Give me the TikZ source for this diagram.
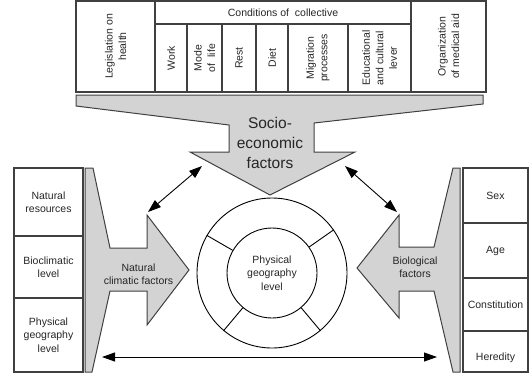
\documentclass[tikz,border=0pt]{standalone}
\usepackage{fontspec}
\setmainfont{Liberation Sans}
\usetikzlibrary{positioning, arrows.meta}
\definecolor{framegray}{HTML}{404040}
\definecolor{arrowgray}{HTML}{D3D3D3}
\definecolor{textgray}{HTML}{262626}

\begin{document}
\begin{tikzpicture}[x=1pt, y=-1pt,
        cell/.style={draw=framegray, line width=1.2pt, inner sep=1pt, align=center, text=textgray, font=\fontsize{10.5}{13.5}\selectfont},
        vcell/.style={cell, rotate=90},
        bigarrow/.style={draw=framegray, line width=1pt, fill=arrowgray},
        arrowtext/.style={align=center, text=textgray, font=\fontsize{10.5}{13.5}\selectfont},
        twoway/.style={<->, >={Triangle[length=13pt, width=9pt]}, line width=0.9pt}]
      \useasboundingbox (0,0) rectangle (529,375);

      % Top table
      \node[vcell, minimum width=91, minimum height=79] (legis) at (115.5,46.5) {Legislation on\\health};
      \node[cell, minimum width=256, minimum height=23] (cond) at (283,12.5) {Conditions of\ \ collective};
      \node[vcell, minimum width=68, minimum height=32] (work) at (171,58) {Work};
      \node[vcell, minimum width=68, minimum height=35] (mode) at (204.5,58) {Mode\\of\ \ life};
      \node[vcell, minimum width=68, minimum height=34] (rest) at (239,58) {Rest};
      \node[vcell, minimum width=68, minimum height=32] (diet) at (272,58) {Diet};
      \node[vcell, minimum width=68, minimum height=60] (migr) at (318,58) {Migration\\processes};
      \node[vcell, minimum width=68, minimum height=63] (educ) at (379.5,58) {Educational\\and cultural\\lever};
      \node[vcell, minimum width=91, minimum height=75] (org) at (448.5,46.5) {Organization\\of medical aid};

      % Socio-economic arrow
      \draw[bigarrow] (76,95) -- (483,95) -- (483,104) -- (314,123) -- (314,152) -- (355,152)
        -- (270,195) -- (190,152) -- (229,152) -- (229,125) -- (76,106) -- cycle;
      \node[arrowtext, font=\fontsize{15.5}{20}\selectfont] (socio) at (270,143) {Socio-\\economic\\factors};

      % Left side
      \node[cell, minimum width=69, minimum height=68] (natres) at (48.5,202) {Natural\\resources};
      \node[cell, minimum width=69, minimum height=62] (biocl) at (48.5,267) {Bioclimatic\\level};
      \node[cell, minimum width=69, minimum height=74] (physl) at (48.5,335) {Physical\\geography\\level};
      \draw[bigarrow] (85,168) -- (93,168) -- (110,248) -- (147,248) -- (147,215) -- (189,270)
        -- (147,325) -- (147,291) -- (110,291) -- (92,372) -- (85,372) -- cycle;
      \node[arrowtext] (natclim) at (138.5,274) {Natural\\climatic factors};

      % Right side
      \node[cell, minimum width=65, minimum height=55] (sex) at (495.5,195.5) {Sex};
      \node[cell, minimum width=65, minimum height=55] (age) at (495.5,250.5) {Age};
      \node[cell, minimum width=65, minimum height=53] (constit) at (495.5,304.5) {Constitution};
      \node[cell, minimum width=65, minimum height=41] (hered) at (495.5,351.5) {\vphantom{H}\\Heredity};
      \draw[bigarrow] (460,168) -- (453,168) -- (434,247) -- (399,247) -- (399,215) -- (357,268)
        -- (399,318) -- (399,291) -- (434,291) -- (453,372) -- (460,372) -- cycle;
      \node[arrowtext] (biol) at (415,267) {Biological\\factors};

      % Centre rings
      \node[draw, circle, minimum size=150, line width=0.9pt] (outer) at (272,273) {};
      \node[draw, circle, minimum size=90, line width=0.9pt, arrowtext] (inner) at (272,273) {Physical\\geography\\level};
      \foreach \a in {35,150,230,310}
        \draw[line width=0.9pt] (inner.\a) -- (outer.\a);

      % Links
      \coordinate (tlA) at (148,212);
      \coordinate (tlB) at (202,166);
      \coordinate (trA) at (345,166);
      \coordinate (trB) at (397,212);
      \coordinate (botA) at (102,357);
      \coordinate (botB) at (437,357);
      \draw[twoway] (tlA) -- (tlB);
      \draw[twoway] (trA) -- (trB);
      \draw[twoway] (botA) -- (botB);
    \end{tikzpicture}
\end{document}
